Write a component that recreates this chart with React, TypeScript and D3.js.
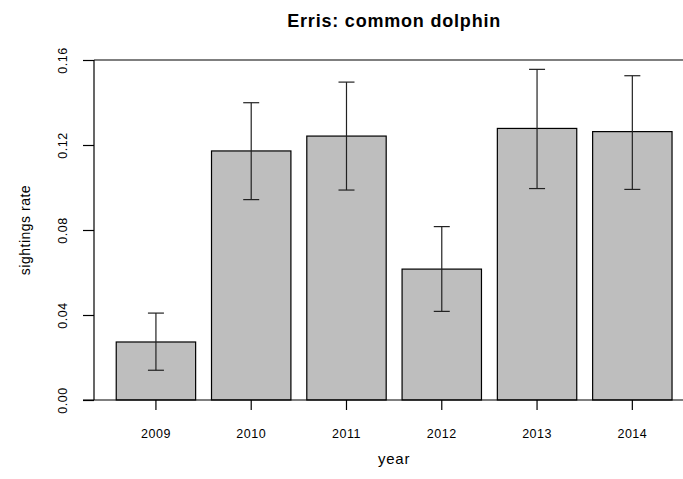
import React, { useRef, useEffect } from 'react';
import * as d3 from 'd3';

const years = ['2009', '2010', '2011', '2012', '2013', '2014'];
const rates = [0.0273, 0.1172, 0.1242, 0.0616, 0.1278, 0.1263];
const lower = [0.014, 0.0943, 0.0988, 0.0417, 0.0995, 0.0991];
const upper = [0.0409, 0.1399, 0.1496, 0.0816, 0.1556, 0.1526];
const yTicks = [0, 0.04, 0.08, 0.12, 0.16];

const App: React.FC = () => {
    const svgRef = useRef<SVGSVGElement | null>(null);

    useEffect(() => {
        if (!svgRef.current) return;
        const svg = d3.select(svgRef.current);
        svg.selectAll('*').remove();

        const width = 683;
        const height = 479;
        // R-style plot region; right edge runs past the picture
        const left = 94, top = 60, bottom = 400;
        const unit = 79.4; // one bar width
        const right = left + 7.56 * unit;
        const font = 'Liberation Sans, Arial, Helvetica, sans-serif';

        const x = d3.scaleBand()
            .domain(years)
            .range([left + 0.28 * unit, right - 0.28 * unit])
            .paddingInner(0.2 / 1.2)
            .paddingOuter(0);

        const y = d3.scaleLinear().domain([0, 0.16]).range([bottom, top]);

        svg.append('rect').attr('width', width).attr('height', height).attr('fill', '#fff');

        // bars
        svg.selectAll('rect.bar')
            .data(years)
            .enter()
            .append('rect')
            .attr('class', 'bar')
            .attr('x', d => x(d) ?? 0)
            .attr('y', (d, i) => y(rates[i]))
            .attr('width', x.bandwidth())
            .attr('height', (d, i) => bottom - y(rates[i]))
            .attr('fill', '#bebebe')
            .attr('stroke', '#000')
            .attr('stroke-width', 1.2);

        // error bars
        const eb = svg.append('g').attr('stroke', '#222').attr('stroke-width', 1.2);
        years.forEach((d, i) => {
            const cx = (x(d) ?? 0) + x.bandwidth() / 2;
            eb.append('line').attr('x1', cx).attr('x2', cx).attr('y1', y(lower[i])).attr('y2', y(upper[i]));
            eb.append('line').attr('x1', cx - 8).attr('x2', cx + 8).attr('y1', y(lower[i])).attr('y2', y(lower[i]));
            eb.append('line').attr('x1', cx - 8).attr('x2', cx + 8).attr('y1', y(upper[i])).attr('y2', y(upper[i]));
        });

        // frame lines: top, bottom baseline
        svg.append('line').attr('x1', left).attr('x2', width).attr('y1', top).attr('y2', top)
            .attr('stroke', '#000').attr('stroke-width', 1.2);
        svg.append('line').attr('x1', left - 11).attr('x2', width).attr('y1', bottom).attr('y2', bottom)
            .attr('stroke', '#000').attr('stroke-width', 1.2);

        // y axis
        const ya = svg.append('g').attr('transform', `translate(${left},0)`)
            .call(d3.axisLeft(y).tickValues(yTicks).tickFormat(d3.format('.2f')).tickSize(11).tickPadding(0));
        ya.select('.domain').attr('stroke', '#000').attr('stroke-width', 1.2).attr('d', `M0,${top}V${bottom}`);
        ya.selectAll('.tick line').attr('stroke', '#000').attr('stroke-width', 1.2);
        ya.selectAll('.tick text')
            .attr('x', 0).attr('dy', null)
            .attr('transform', 'translate(-27,0) rotate(-90)')
            .attr('text-anchor', 'middle')
            .style('font-family', font)
            .style('font-size', '12.5px')
            .style('letter-spacing', '0.5px')
            .attr('fill', '#000');

        // x axis
        const xa = svg.append('g').attr('transform', `translate(0,${bottom})`)
            .call(d3.axisBottom(x).tickSize(10).tickPadding(19));
        xa.select('.domain').remove();
        xa.selectAll('.tick line').attr('stroke', '#000').attr('stroke-width', 1.2);
        xa.selectAll('.tick text')
            .style('font-family', font)
            .style('font-size', '12.5px')
            .style('letter-spacing', '0.5px')
            .attr('fill', '#000');

        const cxPlot = (left + right) / 2;
        svg.append('text').attr('x', cxPlot).attr('y', 27).attr('text-anchor', 'middle')
            .style('font-family', font).style('font-size', '18px').style('font-weight', 'bold')
            .style('letter-spacing', '0.8px')
            .text('Erris: common dolphin');
        svg.append('text').attr('x', cxPlot).attr('y', 464).attr('text-anchor', 'middle')
            .style('font-family', font).style('font-size', '15px')
            .style('letter-spacing', '0.8px')
            .text('year');
        svg.append('text').attr('transform', `translate(30,${(top + bottom) / 2}) rotate(-90)`)
            .attr('text-anchor', 'middle')
            .style('font-family', font).style('font-size', '14px')
            .style('letter-spacing', '0.5px')
            .text('sightings rate');
    }, []);

    return (
        <svg
            ref={svgRef}
            width={683}
            height={479}
            style={{ position: 'absolute', left: 0, top: 0, display: 'block' }}
        />
    );
};

export default App;
